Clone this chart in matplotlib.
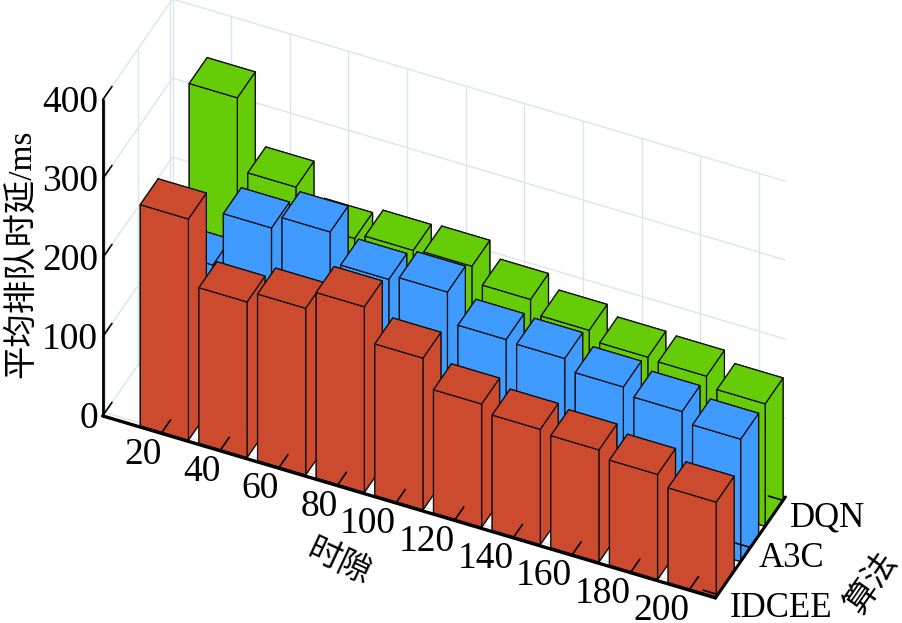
import numpy as np
import matplotlib
matplotlib.use('Agg')
import matplotlib.pyplot as plt
from mpl_toolkits.mplot3d import proj3d

plt.rcParams['font.family'] = ['Liberation Serif', 'Noto Sans CJK SC']

# 时隙 / 算法
slots = [20, 40, 60, 80, 100, 120, 140, 160, 180, 200]
algos = ['IDCEE', 'A3C', 'DQN']
delay_idcee = [280, 197, 211, 235, 192, 156, 146, 142, 133, 120]
delay_a3c = [177, 246, 263, 225, 231, 193, 191, 177, 168, 155]
delay_dqn = [344, 253, 210, 217, 219, 199, 182, 170, 168, 155]
z_ticks = [0, 100, 200, 300, 400]

colors = ['#CC4A2E', '#3F9BFF', '#66CC08']
grid_c = '#DCE5E7'

x_max = 10.45
y_max = 3.0
z_max = 400
x_pos = np.arange(1, 11)
y_pos = [0.1, 1.5, 2.9]

fig = plt.figure(figsize=(9.02, 6.23), dpi=100)
ax = fig.add_axes([33.2 / 902, -86.3 / 623, 800 / 902, 800 / 623],
                  projection='3d', proj_type='ortho', computed_zorder=False)
ax.view_init(elev=40.9, azim=-65.6)
ax.set_box_aspect((x_max * 64.4, y_max * 56.4, z_max * 1.045), zoom=0.983)
ax.set_xlim(0, x_max)
ax.set_ylim(0, y_max)
ax.set_zlim(0, z_max)
ax.set_axis_off()


def line3d(xs, ys, zs, color=grid_c, lw=1.0, zorder=1):
    ax.plot(xs, ys, zs, color=color, lw=lw, zorder=zorder, solid_capstyle='round')


# 三维坐标投影后再写文字
def label3d(x, y, z, s, ha, fontsize):
    px, py, _ = proj3d.proj_transform(x, y, z, ax.get_proj())
    ax.text2D(px, py, s, transform=ax.transData, ha=ha, va='center', fontsize=fontsize)


# 背景网格
for z in z_ticks:
    line3d([0, 0], [0, y_max], [z, z])
    line3d([0, x_max], [y_max, y_max], [z, z])
for x in x_pos:
    line3d([x, x], [y_max, y_max], [0, z_max])
    line3d([x, x], [0, y_max], [0, 0])
for y in y_pos:
    line3d([0, 0], [y, y], [0, z_max])
    line3d([0, x_max], [y, y], [0, 0])
line3d([0, 0], [y_max, y_max], [0, z_max])
line3d([0, x_max], [y_max, y_max], [0, 0])

# 柱子，从后往前画
series = [delay_idcee, delay_a3c, delay_dqn]
order = 10
for row in [2, 1, 0]:
    for i in range(len(slots)):
        ax.bar3d(x_pos[i] - 0.37, 0.03 + row * 1.05, 0, 0.82, 0.77, series[row][i],
                 color=colors[row], edgecolor='#101010', linewidth=0.9,
                 shade=False, zorder=order)
        order += 1

# 坐标轴
line3d([0, x_max], [0, 0], [0, 0], color='black', lw=2.4, zorder=100)
line3d([x_max, x_max], [0, y_max], [0, 0], color='black', lw=2.2, zorder=100)
line3d([0, 0], [0, 0], [0, z_max], color='black', lw=2.0, zorder=100)

tick_size = 27
for x, s in zip(x_pos, slots):
    line3d([x, x], [0, 0.4], [0, 0], color='black', lw=1.2, zorder=101)
    label3d(x + 0.21, -0.514, 0, str(s), 'right', tick_size)
# y 轴标签的微调
lab_dx = [0.3, 0.228, 0.268]
lab_dy = [-0.263, -0.211, -0.398]
for k, (y, s) in enumerate(zip(y_pos, algos)):
    line3d([x_max - 0.25, x_max], [y, y], [0, 0], color='black', lw=1.2, zorder=101)
    label3d(x_max + lab_dx[k], y + lab_dy[k], 0, s, 'left', 25)
for z in z_ticks:
    line3d([0, 0], [0, 0.4], [z, z], color='black', lw=1.2, zorder=101)
    label3d(-0.036, -0.11, z, str(z), 'right', tick_size)

fig.text(22 / 902, 1 - 254 / 623, '平均排队时延/ms', rotation=90, ha='center', va='center', fontsize=24)
fig.text(338 / 902, 1 - 563 / 623, '时隙', rotation=-25, ha='center', va='center', fontsize=24)
fig.text(872 / 902, 1 - 583 / 623, '算法', rotation=55, ha='center', va='center', fontsize=24)

fig.savefig('out.png', dpi=100)
